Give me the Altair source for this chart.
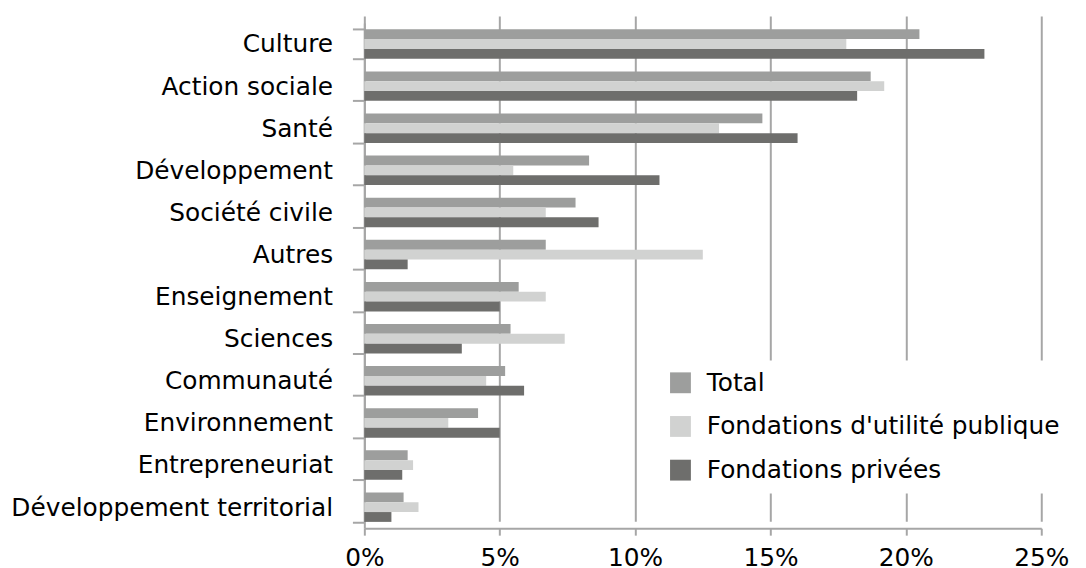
import altair as alt
import pandas as pd

categories = ["Culture", "Action sociale", "Santé", "Développement", "Société civile",
              "Autres", "Enseignement", "Sciences", "Communauté", "Environnement",
              "Entrepreneuriat", "Développement territorial"]
series = ["Total", "Fondations d'utilité publique", "Fondations privées"]
total = [20.5, 18.7, 14.7, 8.3, 7.8, 6.7, 5.7, 5.4, 5.2, 4.2, 1.6, 1.45]
utilite_publique = [17.8, 19.2, 13.1, 5.5, 6.7, 12.5, 6.7, 7.4, 4.5, 3.1, 1.8, 2.0]
privees = [22.9, 18.2, 16.0, 10.9, 8.65, 1.6, 5.0, 3.6, 5.9, 5.0, 1.4, 1.0]
colors = ["#9d9e9d", "#d1d2d1", "#6e6e6c"]
x_ticks = [0, 0.05, 0.10, 0.15, 0.20, 0.25]

rows = []
for s, vals in zip(series, [total, utilite_publique, privees]):
    for c, v in zip(categories, vals):
        rows.append({"cat": c, "serie": s, "value": v / 100})
df = pd.DataFrame(rows)

GRAY = "#a6a6a6"
FS = 25

chart = alt.Chart(df).mark_bar().encode(
    y=alt.Y("cat:N", sort=categories,
            scale=alt.Scale(range=[7, 516], paddingInner=0.3, paddingOuter=0.15),
            axis=alt.Axis(title=None, tickBand="extent", labelFontSize=FS, labelColor="#000",
                          labelPadding=20, tickSize=12, tickWidth=2, tickColor=GRAY,
                          domainColor=GRAY, domainWidth=2, grid=False, labelLimit=400)),
    yOffset=alt.YOffset("serie:N", sort=series, scale=alt.Scale(paddingInner=0, paddingOuter=0)),
    x=alt.X("value:Q", scale=alt.Scale(domain=[0, 0.25], nice=False),
            axis=alt.Axis(title=None, format=".0%", values=x_ticks, labelFontSize=FS,
                          labelColor="#000", labelPadding=11, tickSize=7, tickWidth=2,
                          tickColor=GRAY, domainColor=GRAY, domainWidth=2, labelFlush=False,
                          grid=True, gridColor=GRAY, gridWidth=2)),
    color=alt.Color("serie:N", sort=series,
                    scale=alt.Scale(domain=series, range=colors),
                    legend=alt.Legend(title=None, orient="none", legendX=296, legendY=347,
                                      fillColor="white", padding=10, symbolType="square",
                                      symbolSize=441, symbolStrokeWidth=0, labelFontSize=FS,
                                      labelColor="#000", labelOffset=14, rowPadding=18,
                                      labelLimit=500)),
).properties(
    width=682, height=516,
    padding={"left": 359, "top": 6, "right": 37, "bottom": 38},
    autosize="none",
).configure(font="DejaVu Sans").configure_view(stroke=None)

chart.save("out.html", embed_options={"renderer": "svg", "actions": False})
